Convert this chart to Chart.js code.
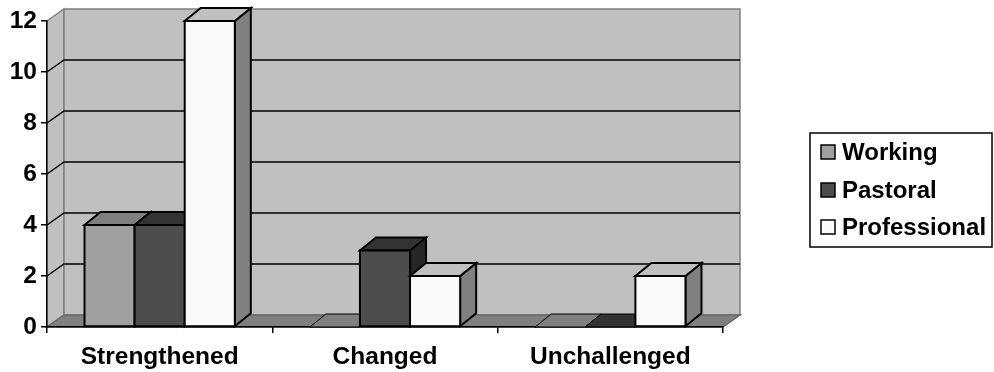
<!DOCTYPE html>
<html>
<head>
<meta charset="utf-8">
<script src="https://cdn.jsdelivr.net/npm/chart.js@4.4.1/dist/chart.umd.min.js"></script>
<style>
  html, body { margin: 0; padding: 0; background: #ffffff; }
  #wrap { width: 994px; height: 372px; }
</style>
</head>
<body>
<div id="wrap"><canvas id="c" width="994" height="372"></canvas></div>
<script>
// Outcome counts per category for each group
const categories = ['Strengthened', 'Changed', 'Unchallenged'];
const working = [4, 0, 0];
const pastoral = [4, 3, 0];
const professional = [12, 2, 2];
const seriesNames = ['Working', 'Pastoral', 'Professional'];
const yTicks = [0, 2, 4, 6, 8, 10, 12];

const FONT = '"Liberation Sans", Arial, Helvetica, sans-serif';

// Depth offsets for the pseudo-3D wall and bar blocks
const WALL = { dx: 17, dy: -12 };
const BLOCK = { dx: 16, dy: -13 };

// Front / top / side shades for each series
const shades = [
  { front: '#a0a0a0', top: '#808080', side: '#606060' },
  { front: '#4d4d4d', top: '#333333', side: '#262626' },
  { front: '#fafafa', top: '#c0c0c0', side: '#808080' }
];

function poly(ctx, pts, fill, stroke, lw) {
  ctx.beginPath();
  ctx.moveTo(pts[0][0], pts[0][1]);
  for (let i = 1; i < pts.length; i++) ctx.lineTo(pts[i][0], pts[i][1]);
  ctx.closePath();
  if (fill) { ctx.fillStyle = fill; ctx.fill(); }
  if (stroke) { ctx.strokeStyle = stroke; ctx.lineWidth = lw || 1; ctx.stroke(); }
}

// Back wall, side wall, floor and gridlines behind the bars
const wallPlugin = {
  id: 'wall3d',
  beforeDraw(chart) {
    const { ctx, chartArea: a, scales: { y } } = chart;
    const L = a.left, R = a.right, T = y.getPixelForValue(12), B = y.getPixelForValue(0);
    const dx = WALL.dx, dy = WALL.dy;
    ctx.save();
    ctx.lineJoin = 'miter';
    poly(ctx, [[L, T], [L + dx, T + dy], [L + dx, B + dy], [L, B]], '#c0c0c0', '#808080', 1.5);
    poly(ctx, [[L + dx, T + dy], [R + dx, T + dy], [R + dx, B + dy], [L + dx, B + dy]], '#c0c0c0', '#808080', 1.5);
    poly(ctx, [[L, B], [R, B], [R + dx, B + dy], [L + dx, B + dy]], '#808080', '#6a6a6a', 1.5);
    ctx.strokeStyle = '#000000';
    ctx.lineWidth = 1.5;
    yTicks.forEach(v => {
      if (v === 0 || v === 12) return;
      const py = y.getPixelForValue(v);
      ctx.beginPath();
      ctx.moveTo(L, py);
      ctx.lineTo(L + dx, py + dy);
      ctx.lineTo(R + dx, py + dy);
      ctx.stroke();
    });
    ctx.restore();
  }
};

// Full blocks (side, top, front), painted left to right so nearer faces overlap correctly
const blockPlugin = {
  id: 'block3d',
  afterDatasetsDraw(chart) {
    const { ctx } = chart;
    const dx = BLOCK.dx, dy = BLOCK.dy;
    const items = [];
    chart.data.datasets.forEach((ds, di) => {
      chart.getDatasetMeta(di).data.forEach(el => {
        items.push({ p: el.getProps(['x', 'y', 'base', 'width'], true), sh: shades[di] });
      });
    });
    items.sort((a, b) => a.p.x - b.p.x);
    ctx.save();
    ctx.lineJoin = 'miter';
    items.forEach(({ p, sh }) => {
      const x1 = p.x - p.width / 2, x2 = p.x + p.width / 2;
      const top = p.y, base = p.base;
      const tall = base - top > 0.5;
      if (tall) {
        poly(ctx, [[x2, top], [x2 + dx, top + dy], [x2 + dx, base + dy], [x2, base]], sh.side, '#000000', 2);
      }
      poly(ctx, [[x1, top], [x2, top], [x2 + dx, top + dy], [x1 + dx, top + dy]], sh.top, '#000000', tall ? 2 : 1);
      if (tall) {
        poly(ctx, [[x1, top], [x2, top], [x2, base], [x1, base]], sh.front, '#000000', 2);
      }
    });
    ctx.restore();
  }
};

// Boxed legend on the right
const legendPlugin = {
  id: 'boxLegend',
  afterDraw(chart) {
    const { ctx } = chart;
    const box = { x: 810, y: 133, w: 182, h: 114 };
    const rows = [152, 190, 227];
    ctx.save();
    ctx.strokeStyle = '#000000';
    ctx.lineWidth = 1.5;
    ctx.strokeRect(box.x, box.y, box.w, box.h);
    ctx.font = 'bold 24px ' + FONT;
    ctx.textBaseline = 'middle';
    ctx.textAlign = 'left';
    chart.data.datasets.forEach((ds, i) => {
      const cy = rows[i];
      ctx.fillStyle = shades[i].front;
      ctx.fillRect(821, cy - 7, 14, 14);
      ctx.lineWidth = 1.5;
      ctx.strokeRect(821, cy - 7, 14, 14);
      ctx.fillStyle = '#000000';
      ctx.fillText(ds.label, 842, cy + 1);
    });
    ctx.restore();
  }
};

const seriesValues = [working, pastoral, professional];

new Chart(document.getElementById('c'), {
  type: 'bar',
  data: {
    labels: categories,
    datasets: seriesNames.map((name, i) => ({
      label: name,
      data: seriesValues[i],
      backgroundColor: shades[i].front,
      borderColor: '#000000',
      borderWidth: 2,
      borderSkipped: false,
      categoryPercentage: 0.667,
      barPercentage: 1.0
    }))
  },
  options: {
    responsive: false,
    animation: false,
    layout: { padding: { top: 21, right: 271, left: 0, bottom: 0 } },
    plugins: {
      legend: { display: false },
      tooltip: { enabled: false }
    },
    scales: {
      x: {
        grid: { offset: true, drawOnChartArea: false, drawTicks: true, tickLength: 6, color: '#000000', lineWidth: 1.5 },
        border: { display: true, color: '#000000', width: 1.5 },
        ticks: { color: '#000000', font: { family: FONT, size: 24.5, weight: 'bold' }, padding: 10, maxRotation: 0 },
        afterFit(scale) { scale.height = 45; }
      },
      y: {
        min: 0,
        max: 12,
        afterBuildTicks(scale) { scale.ticks = yTicks.map(v => ({ value: v })); },
        grid: { drawOnChartArea: false, drawTicks: true, tickLength: 6, color: '#000000', lineWidth: 1.5 },
        border: { display: true, color: '#000000', width: 1.5 },
        ticks: { color: '#000000', font: { family: FONT, size: 24.5, weight: 'bold' }, padding: 4 },
        afterFit(scale) { scale.width = 47; }
      }
    }
  },
  plugins: [wallPlugin, blockPlugin, legendPlugin]
});
</script>
</body>
</html>
